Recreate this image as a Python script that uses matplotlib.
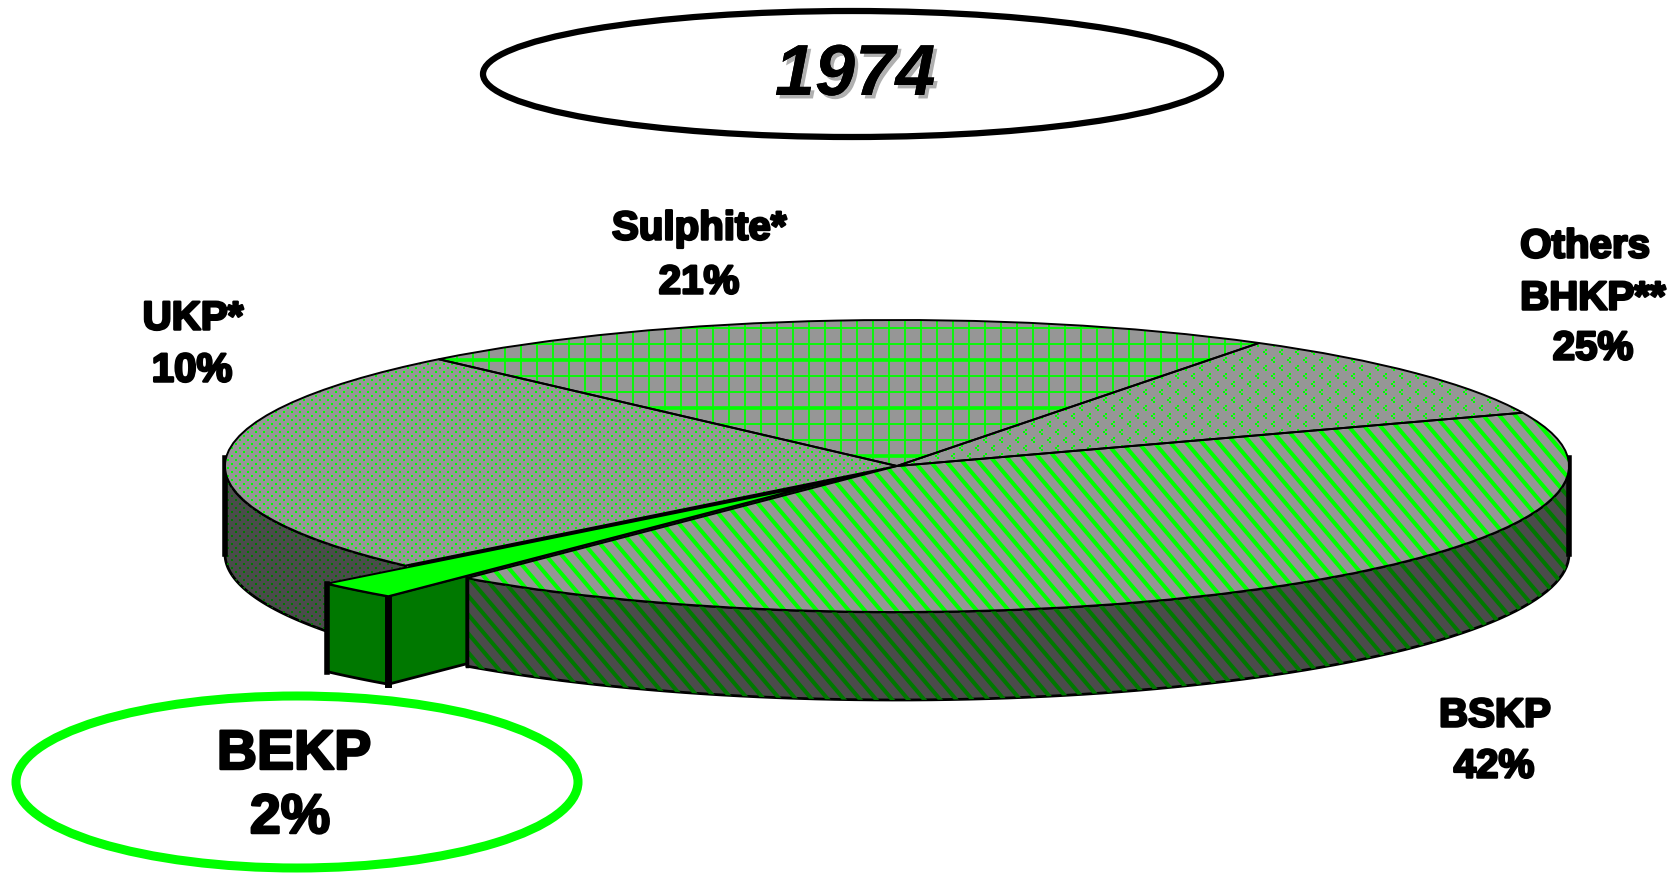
"""Market share of pulp grades in 1974, drawn as a tilted 3D pie."""

import numpy as np
import matplotlib

matplotlib.use("Agg")
import matplotlib.pyplot as plt
import matplotlib.patheffects as pe
from matplotlib.collections import LineCollection
from matplotlib.patches import Ellipse, Polygon, Wedge
from matplotlib.transforms import Affine2D

YEAR = "1974"
GRADES = ["Sulphite*", "UKP*", "BSKP", "BEKP", "Others\nBHKP**"]
SHARES = [21, 10, 42, 2, 25]
EXPLODE = [0, 0, 0, 0.17, 0]

# canvas layout, in pixels
WIDTH, HEIGHT = 1674, 874
DPI = 100
CX, CY, RX, RY = 897, 466, 672, 146
DEPTH = 88
START_ANGLE = 133

GREY = "#969696"
DARK_GREY = "#4b4b4b"
GREEN = "#00ff00"
DARK_GREEN = "#007800"

# centre of each text line, one entry per grade
LABEL_LINES = {
    "Sulphite*": [(699, 225), (699, 279)],
    "UKP*": [(193, 315), (192, 367)],
    "BSKP": [(1495, 712), (1494, 763)],
    "Others\nBHKP**": [(1585, 243), (1593, 295), (1593, 345)],
    "BEKP": [(294, 749), (290, 813)],
}
LABEL_SIZE = {"BEKP": 40}

plt.rcParams["font.family"] = ["Liberation Sans", "DejaVu Sans"]

fig = plt.figure(figsize=(WIDTH / DPI, HEIGHT / DPI), dpi=DPI)
ax = fig.add_axes([0, 0, 1, 1])

wedges, _ = ax.pie(
    SHARES,
    explode=EXPLODE,
    startangle=START_ANGLE,
    counterclock=False,
    radius=1,
)
ax.set_aspect("auto")
ax.set_xlim(0, WIDTH)
ax.set_ylim(HEIGHT, 0)
ax.set_axis_off()

# unit circle -> flattened ellipse in canvas pixels
face_tf = Affine2D().scale(RX, -RY).translate(CX, CY)
by_grade = dict(zip(GRADES, wedges))


def project(wedge, angle):
    t = np.radians(np.atleast_1d(angle))
    x = wedge.center[0] + np.cos(t)
    y = wedge.center[1] + np.sin(t)
    return face_tf.transform(np.column_stack([x, y]))


def wall(wedge, a0, a1, face, z):
    top = project(wedge, np.linspace(a0, a1, 80))
    bottom = top[::-1] + [0, DEPTH]
    patch = Polygon(np.vstack([top, bottom]), closed=True, facecolor=face,
                    edgecolor="black", linewidth=2.0, zorder=z)
    ax.add_patch(patch)
    return patch


def stripes(clip, color, z, spacing=16, slope=1.18, width=2.9):
    run = HEIGHT / slope
    segs = [[(s, 0), (s + run, HEIGHT)] for s in np.arange(-run, WIDTH, spacing)]
    lines = LineCollection(segs, colors=color, linewidths=width, zorder=z)
    ax.add_collection(lines)
    lines.set_clip_path(clip)


def dots(clip, color, z, pitch, row, size, cluster=((0, 0),)):
    xs, ys = [], []
    for i, y in enumerate(np.arange(0, HEIGHT, row)):
        for x in np.arange((i % 2) * pitch / 2, WIDTH, pitch):
            for dx, dy in cluster:
                xs.append(x + dx)
                ys.append(y + dy)
    pts = ax.scatter(xs, ys, s=size, marker="s", c=color, linewidths=0, zorder=z)
    pts.set_clip_path(clip)


def grid(clip, z):
    for i, y in enumerate(np.arange(328, 620, 16)):
        thick = 2.6 if i % 3 == 2 else 1.3
        line, = ax.plot([0, WIDTH], [y, y], color=GREEN, lw=thick, zorder=z)
        line.set_clip_path(clip)
    for x in np.arange(809 - 16 * 30, 1400, 16):
        line, = ax.plot([x, x], [0, HEIGHT], color=GREEN, lw=1.3, zorder=z)
        line.set_clip_path(clip)


for wedge in wedges:
    wedge.set_transform(face_tf + ax.transData)
    wedge.set_facecolor(GREY)
    wedge.set_edgecolor("none")
    wedge.set_zorder(5)

sulphite = by_grade["Sulphite*"]
ukp = by_grade["UKP*"]
bskp = by_grade["BSKP"]
bekp = by_grade["BEKP"]
others = by_grade["Others\nBHKP**"]

# side walls, back to front
left_wall = wall(others, -180, others.theta2 - 360 if others.theta2 > 0 else others.theta2, DARK_GREY, 2)
dots(left_wall, DARK_GREEN, 2.1, 8, 4, 1.8)

# dark slot left behind where the pulled-out slice used to sit
slot = Wedge((0, 0), 1, bekp.theta1, bekp.theta2, facecolor="black", edgecolor="none", zorder=2.5)
ax.add_patch(slot)
slot.set_transform(face_tf + ax.transData)

apex = face_tf.transform([bekp.center])[0]
near = project(bekp, bekp.theta2)[0]
far = project(bekp, bekp.theta1)[0]
inner_wall = Polygon([near, apex, apex + [0, DEPTH], near + [0, DEPTH]], closed=True,
                     facecolor=DARK_GREEN, edgecolor="black", linewidth=2.0, zorder=3)
ax.add_patch(inner_wall)
wall(bekp, bekp.theta1, bekp.theta2, DARK_GREEN, 3.1)

front_wall = wall(bskp, bskp.theta1, 0, DARK_GREY, 4)
stripes(front_wall, DARK_GREEN, 4.1)

# heavy vertical edges
ax.plot([far[0], far[0]], [far[1], far[1] + DEPTH], color="black", lw=4, zorder=4.5)
ax.plot([near[0], near[0]], [near[1], near[1] + DEPTH], color="black", lw=5, zorder=4.5)
corner = project(bskp, bskp.theta1)[0]
ax.plot([corner[0], corner[0]], [corner[1], corner[1] + DEPTH], color="black", lw=2.5, zorder=4.5)
for end in (project(others, -180.0)[0], project(bskp, 0.0)[0]):
    ax.plot([end[0], end[0]], [end[1] - 8, end[1] + DEPTH], color="black", lw=4, zorder=4.5)

# top face textures
grid(sulphite, 5.1)
dots(ukp, GREEN, 5.1, 16, 8, 1.2, cluster=((0, 0), (2.5, -2), (2.5, 2)))
stripes(bskp, GREEN, 5.1)
dots(others, GREEN, 5.1, 8, 4, 1.8)
bekp.set_facecolor(GREEN)
bekp.set_zorder(6)

for wedge, z in zip(wedges, (5.5, 5.5, 5.5, 6.5, 5.5)):
    outline = Wedge(wedge.center, wedge.r, wedge.theta1, wedge.theta2, fill=False,
                    edgecolor="black", linewidth=1.4, zorder=z)
    ax.add_patch(outline)
    outline.set_transform(face_tf + ax.transData)

heavy = [pe.withStroke(linewidth=1.8, foreground="black")]
shares = dict(zip(GRADES, SHARES))

for grade, centres in LABEL_LINES.items():
    size = LABEL_SIZE.get(grade, 29)
    lines = f"{grade}\n{shares[grade]}%".split("\n")
    # baseline sits half a cap height below the requested line centre
    drop = 0.36 * size * DPI / 72
    for (x, y), text in zip(centres, lines):
        ax.text(x, y + drop, text, ha="center", va="baseline", fontsize=size,
                fontweight="bold", color="black", path_effects=heavy, zorder=8)

# highlighted grade in its own ring
ax.add_patch(Ellipse((297, 782), 562, 172, fill=False, edgecolor=GREEN, linewidth=6.5, zorder=7))

# year badge
ax.add_patch(Ellipse((852, 74), 738, 126, fill=False, edgecolor="black", linewidth=4.5, zorder=7))
ax.text(855, 76, YEAR, ha="center", va="center", fontsize=52, fontweight="bold", style="italic",
        color="black", zorder=8,
        path_effects=[pe.withSimplePatchShadow(offset=(2.5, -2.5), shadow_rgbFace="#b0b0b0", alpha=1.0),
                      pe.Normal()])

fig.savefig("out.png", dpi=DPI, facecolor="white")
